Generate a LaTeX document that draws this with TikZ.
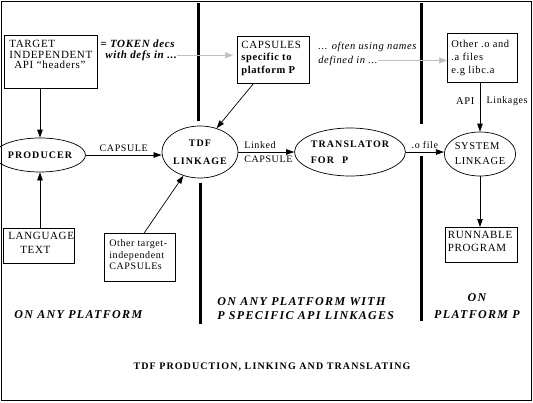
\documentclass[tikz,border=0pt]{standalone}
\usepackage{fontspec}
\setmainfont[LetterSpace=6]{Liberation Serif}
\newfontfamily\widebf[LetterSpace=11]{Liberation Serif}
\usetikzlibrary{shapes.geometric,arrows.meta}
\tikzset{
  box/.style={draw, anchor=north west},
  blob/.style={draw, ellipse, inner sep=0pt},
  arr/.style={-{Triangle[length=8pt,width=5.5pt]}},
  greyarr/.style={gray!50, -{Triangle[length=8pt,width=6pt]}},
  divider/.style={line width=3pt},
  zonelabel/.style={font={\widebf\bfseries\itshape\fontsize{12}{14.5}\selectfont}, inner sep=0pt},
}
\begin{document}
\begin{tikzpicture}[x=1pt,y=-1pt,line width=0.7pt]
  \useasboundingbox (0,0) rectangle (533,402);
  %frame
  \draw[line width=1pt] (1,1) rectangle (531.5,400.5);
  %dividers
  \draw[divider] (198,3) -- (198,121);
  \draw[divider] (200,183) -- (200,324);
  \draw[divider] (421,3) -- (421,124);
  \draw[divider] (421,156) -- (421,321);
  %boxes
  \node[box, inner xsep=5pt, inner ysep=5pt] (target) at (4,35)
    {\parbox[t][43pt][t]{83pt}{\fontsize{11}{10.5}\selectfont TARGET\\INDEPENDENT\\\hspace*{5pt}API “headers”}};
  \node[box, inner xsep=4pt, inner ysep=4.5pt] (capsP) at (237,36)
    {\parbox[t][38pt][t]{64pt}{\fontsize{10.5}{12.5}\selectfont{\fontsize{11}{12.5}\selectfont CAPSULES}\\\textbf{specific to}\\\textbf{platform P}}};
  \node[box, inner xsep=4pt, inner ysep=6.5pt] (otherobj) at (447,33)
    {\parbox[t][36pt][t]{62pt}{\fontsize{10.5}{13}\selectfont Other .o and\\.a files\\e.g libc.a}};
  \node[box, inner xsep=5pt, inner ysep=4pt] (langtext) at (3,228)
    {\parbox[t][27pt][t]{61pt}{\fontsize{11}{14}\selectfont LANGUAGE\\\hspace*{12pt}TEXT}};
  \node[box, inner xsep=5pt, inner ysep=6.5pt] (othercaps) at (104,233)
    {\parbox[t][35pt][t]{61pt}{\fontsize{10}{11.5}\selectfont Other target-\\independent\\CAPSULEs}};
  \node[box, inner xsep=2.5pt, inner ysep=3.5pt] (runnable) at (445,227)
    {\parbox[t][28pt][t]{67pt}{\fontsize{11}{13}\selectfont RUNNABLE\\PROGRAM}};
  %notes
  \node[anchor=base west, inner sep=0pt, font={\bfseries\itshape\fontsize{11}{13}\selectfont}] (tokenA) at (100,47) {= TOKEN decs};
  \node[anchor=base west, inner sep=0pt, font={\bfseries\itshape\fontsize{11}{13}\selectfont}] (tokenB) at (105,58) {with defs in ...};
  \node[anchor=base west, inner sep=0pt, font={\itshape\fontsize{10.5}{12}\selectfont}] (namesA) at (318,49) {... often using names};
  \node[anchor=base west, inner sep=0pt, font={\itshape\fontsize{10.5}{12}\selectfont}] (namesB) at (318,63) {defined in ...};
  %ellipses
  \node[blob, minimum width=70pt, minimum height=34pt, font={\widebf\bfseries\fontsize{10}{12}\selectfont}] (producer) at (40,155) {PRODUCER};
  \node[blob, minimum width=74pt, minimum height=52pt, align=center, font={\widebf\bfseries\fontsize{10}{18}\selectfont}] (tdflink) at (200,152) {TDF\\LINKAGE};
  \node[blob, minimum width=94pt, minimum height=48pt, align=left, font={\widebf\bfseries\fontsize{10}{16}\selectfont}] (translator) at (350,152) {TRANSLATOR\\FOR\hspace{8pt}P};
  \node[blob, minimum width=68pt, minimum height=44pt, align=left, font={\fontsize{10.5}{15}\selectfont}] (syslink) at (480,154) {SYSTEM\\LINKAGE};
  %arrows
  \draw[greyarr] (tokenB.east) -- (capsP.west |- tokenB.east) [shorten >=4pt];
  \draw[greyarr] (namesB.east) -- (otherobj.west |- namesB.east);
  \draw[arr] (producer.north |- target.south) -- (producer.north);
  \draw[arr] (producer.south |- langtext.north) -- (producer.south);
  \draw[arr] (producer.east) -- (producer.east -| tdflink.west) node[midway, above, font={\fontsize{10}{12}\selectfont}] {CAPSULE};
  \draw[arr] (capsP.230) -- (tdflink.55);
  \draw[arr] (othercaps.80) -- (tdflink.235);
  \draw[arr] (tdflink.east) -- (translator.west)
    node[pos=0.1, above right, inner xsep=0pt, font={\fontsize{10}{12}\selectfont}] {Linked}
    node[pos=0.1, below right, inner xsep=0pt, font={\fontsize{10}{12}\selectfont}] {CAPSULE};
  \draw[arr] (translator.east) -- (translator.east -| syslink.west) node[midway, above, font={\fontsize{10}{12}\selectfont}] {.o file};
  \draw[arr] (otherobj.south -| syslink.north) -- (syslink.north)
    node[pos=0.38, left, xshift=-2pt, font={\fontsize{10.5}{12}\selectfont}] {API}
    node[pos=0.38, right, xshift=3pt, font={\fontsize{10}{12}\selectfont}] {Linkages};
  \draw[arr] (syslink.south) -- (syslink.south |- runnable.north);
  %zone labels
  \node[zonelabel, anchor=base west] (zoneany) at (14,318) {ON ANY PLATFORM};
  \node[zonelabel, anchor=north west, align=left] (zonewith) at (217,297) {ON ANY PLATFORM WITH\\P SPECIFIC API LINKAGES};
  \node[zonelabel, anchor=north, align=center, font={\widebf\bfseries\itshape\fontsize{12}{17}\selectfont}] (zoneP) at (477,293) {ON\\PLATFORM P};
  %title
  \node[anchor=base, font={\widebf\bfseries\fontsize{10}{12}\selectfont}] (title) at (272,369) {TDF PRODUCTION, LINKING AND TRANSLATING};
\end{tikzpicture}
\end{document}
